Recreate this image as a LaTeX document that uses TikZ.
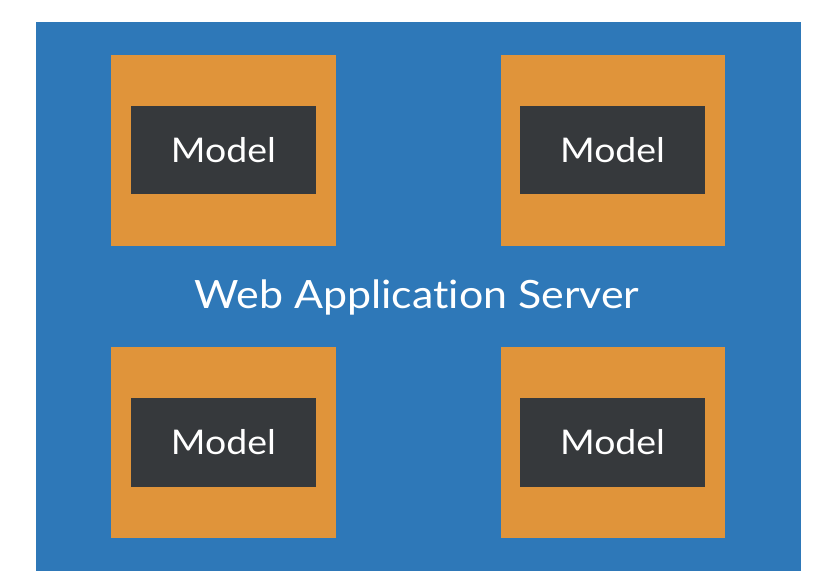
\documentclass[tikz,border=0pt]{standalone}
\usepackage{fontspec}
\setmainfont{Lato}[FakeStretch=1.1,RawFeature=-liga]
\definecolor{serverblue}{HTML}{2E78B8}
\definecolor{modelorange}{HTML}{E0943A}
\definecolor{modeldark}{HTML}{36393C}
\tikzset{
  outerbox/.style={fill=modelorange,minimum width=224.5pt,minimum height=191pt,inner sep=0pt},
  modelbox/.style={fill=modeldark,minimum width=185pt,minimum height=88.5pt,inner sep=0pt,text=white,font=\fontsize{34}{34}\selectfont}
}
\begin{document}
\begin{tikzpicture}[x=1pt,y=-1pt]
\useasboundingbox[fill=white] (0,0) rectangle (817,584);
\fill[serverblue] (36,22) rectangle (800.5,570.5);
% top row
\node[outerbox] (tlo) at (223.3,150.5){};
\node[modelbox] (tlm) at (223.4,150){Model};
\node[outerbox] (tro) at (613,150.5){};
\node[modelbox] (trm) at (612.5,150){Model};
% bottom row
\node[outerbox] (blo) at (223.3,442.5){};
\node[modelbox] (blm) at (223.4,442.5){Model};
\node[outerbox] (bro) at (613,442.5){};
\node[modelbox] (brm) at (612.5,442.5){Model};

\node[text=white,font=\fontsize{39}{39}\selectfont] (server) at (417,297){Web Application Server};
\end{tikzpicture}
\end{document}
